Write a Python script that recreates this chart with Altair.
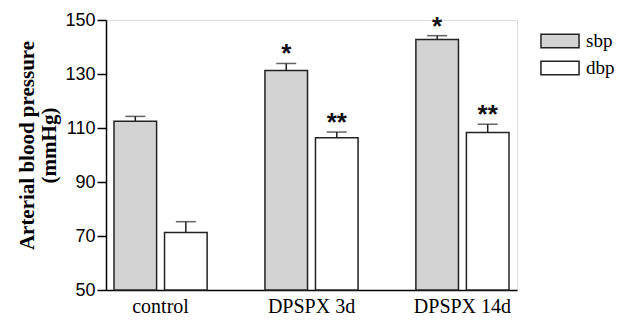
import altair as alt
import pandas as pd

groups = ["control", "DPSPX 3d", "DPSPX 14d"]
series = ["sbp", "dbp"]
sbp_mean = [112.5, 131.3, 142.8]
sbp_top = [114.3, 133.9, 144.2]
dbp_mean = [71.3, 106.4, 108.3]
dbp_top = [75.3, 108.5, 111.4]
sbp_sig = ["", "*", "*"]
dbp_sig = ["", "**", "**"]
y_ticks = [50, 70, 90, 110, 130, 150]

rows = []
for i, g in enumerate(groups):
    rows.append({"group": g, "series": "sbp", "mean": sbp_mean[i], "top": sbp_top[i], "sig": sbp_sig[i]})
    rows.append({"group": g, "series": "dbp", "mean": dbp_mean[i], "top": dbp_top[i], "sig": dbp_sig[i]})
df = pd.DataFrame(rows)

x_enc = alt.X("group:N", sort=groups, title=None,
              scale=alt.Scale(paddingInner=0.383, paddingOuter=0.053),
              axis=alt.Axis(labelAngle=0, ticks=False, labelPadding=6,
                            labelFont="Liberation Serif", labelFontSize=20,
                            labelColor="black", domainColor="black", domainWidth=1.5))
xo_enc = alt.XOffset("series:N", sort=series,
                     scale=alt.Scale(paddingInner=0.157, paddingOuter=0))
y_scale = alt.Scale(domain=[50, 150], zero=False, nice=False)

base = alt.Chart(df)

bars = base.mark_bar(stroke="#222222", strokeWidth=1.5).encode(
    x=x_enc,
    xOffset=xo_enc,
    y=alt.Y("mean:Q", scale=y_scale,
            title=["Arterial blood pressure", "(mmHg)"],
            axis=alt.Axis(values=y_ticks, grid=False, tickSize=9, tickWidth=1.5,
                          tickColor="black", domainColor="black", domainWidth=1.5,
                          labelFont="Liberation Sans", labelFontSize=18,
                          labelColor="black", labelPadding=2,
                          titleFont="Liberation Serif", titleFontSize=21,
                          titleFontWeight="bold", titleColor="black",
                          titleLineHeight=22, titlePadding=5, titleY=125)),
    y2=alt.datum(50),
    fill=alt.Fill("series:N", sort=series,
                  scale=alt.Scale(domain=series, range=["#d3d3d3", "#ffffff"]),
                  legend=alt.Legend(title=None, orient="none", legendX=437, legendY=4,
                                    symbolType="M-1.19,-0.42H1.19V0.42H-1.19Z",
                                    symbolSize=1024, symbolStrokeColor="#222222",
                                    symbolStrokeWidth=1.5, rowPadding=0,
                                    labelFont="Liberation Serif", labelFontSize=19,
                                    labelColor="black", labelOffset=9, padding=0)),
)

err = base.mark_rule(color="#222222", strokeWidth=1.5).encode(
    x=alt.X("group:N", sort=groups),
    xOffset=xo_enc,
    y=alt.Y("mean:Q", scale=y_scale),
    y2="top:Q",
)

caps = base.mark_tick(color="#222222", thickness=1.5, size=20).encode(
    x=alt.X("group:N", sort=groups),
    xOffset=xo_enc,
    y=alt.Y("top:Q", scale=y_scale),
)

stars = base.mark_text(font="Liberation Sans", fontSize=26, fontWeight="bold",
                       baseline="alphabetic", dy=-1, color="#111111").encode(
    x=alt.X("group:N", sort=groups),
    xOffset=xo_enc,
    y=alt.Y("top:Q", scale=y_scale),
    text="sig:N",
)

chart = alt.layer(bars, err, caps, stars).properties(
    width=411, height=270,
    autosize=alt.AutoSizeParams(type="none"),
    padding={"left": 98, "top": 12, "right": 100, "bottom": 28},
).configure_view(stroke=None).configure(background="white")

chart.save("out.html", embed_options={"renderer": "svg", "actions": False})
